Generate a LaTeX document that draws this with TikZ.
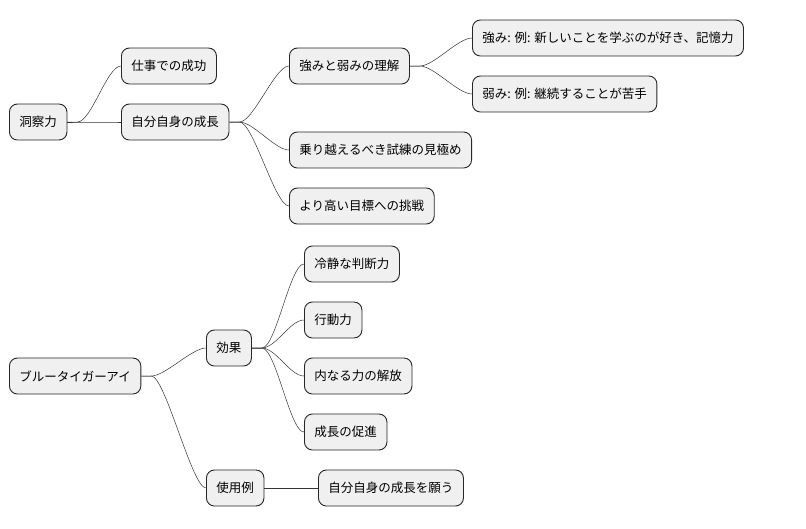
\documentclass[tikz,border=0pt]{standalone}
\usepackage{fontspec}
\newfontfamily\cjk{Noto Sans CJK JP}
\tikzset{
  topic/.style={draw=black!85,fill=black!6,line width=0.9pt,rounded corners=8pt,
    anchor=west,minimum height=36pt,inner xsep=10pt,font=\cjk\fontsize{12.5}{14}\selectfont},
  branch/.style={line width=0.5pt,black!80}
}
\begin{document}
\begin{tikzpicture}[x=1pt,y=-1pt]
  \useasboundingbox (0,0) rectangle (806,528);

  % first tree
  \node[topic] (dosatsu) at (9,122) {洞察力};
  \node[topic] (shigoto) at (121,66) {仕事での成功};
  \node[topic] (seicho) at (121,122) {自分自身の成長};
  \node[topic] (rikai) at (289,66) {強みと弱みの理解};
  \node[topic] (tsuyomi) at (472,38) {強み: 例: 新しいことを学ぶのが好き、記憶力};
  \node[topic] (yowami) at (472,94) {弱み: 例: 継続することが苦手};
  \node[topic] (shiren) at (289,150) {乗り越えるべき試練の見極め};
  \node[topic] (chosen) at (289,206) {より高い目標への挑戦};

  % second tree
  \node[topic] (tiger) at (9,376) {ブルータイガーアイ};
  \node[topic] (koka) at (206,348) {効果};
  \node[topic] (reisei) at (304,264) {冷静な判断力};
  \node[topic] (kodo) at (304,320) {行動力};
  \node[topic] (kaiho) at (304,376) {内なる力の解放};
  \node[topic] (sokushin) at (304,432) {成長の促進};
  \node[topic] (shiyo) at (206,488) {使用例};
  \node[topic] (negau) at (318,488) {自分自身の成長を願う};

  % connectors
  \foreach \p/\c in {dosatsu/shigoto,dosatsu/seicho,seicho/rikai,seicho/shiren,seicho/chosen,
                     rikai/tsuyomi,rikai/yowami,tiger/koka,tiger/shiyo,
                     koka/reisei,koka/kodo,koka/kaiho,koka/sokushin}
    \draw[branch] (\p.east) -- ++(10,0) .. controls +(14,0) and +(-14,0) .. (\c.west);
  \draw[branch] (shiyo) -- (negau);
\end{tikzpicture}
\end{document}
